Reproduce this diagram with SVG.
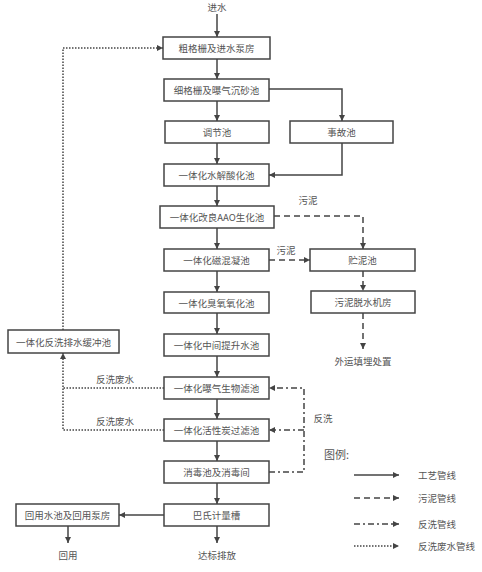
<svg xmlns="http://www.w3.org/2000/svg" width="482" height="572" viewBox="0 0 482 572">
<style>
.b{fill:#fff;stroke:#444;stroke-width:1.5}
.t{font-family:"Noto Sans CJK SC","Noto Sans",sans-serif;font-size:9.5px;fill:#555;text-anchor:middle;dominant-baseline:central}
.l{fill:none;stroke:#444;stroke-width:1.5}
.d{stroke-dasharray:6,4}
.dd{stroke-dasharray:6,3,2,3}
.o{stroke-dasharray:1.5,1.5}
</style>
<defs>
<marker id="a" viewBox="0 0 10 10" refX="10" refY="5" markerWidth="7" markerHeight="6" markerUnits="userSpaceOnUse" orient="auto"><path d="M0,0L10,5L0,10z" fill="#444"/></marker>
</defs>
<rect width="482" height="572" fill="#fff"/>
<g id="connectors">
<path class="l" d="M217,14V37" marker-end="url(#a)"/>
<path class="l" d="M217,59V79" marker-end="url(#a)"/>
<path class="l" d="M217,101V121" marker-end="url(#a)"/>
<path class="l" d="M269,89H342V121" marker-end="url(#a)"/>
<path class="l" d="M217,143V164" marker-end="url(#a)"/>
<path class="l" d="M342,143V175H269" marker-end="url(#a)"/>
<path class="l" d="M217,186V206" marker-end="url(#a)"/>
<path class="l" d="M217,228V249" marker-end="url(#a)"/>
<path class="l" d="M217,271V292" marker-end="url(#a)"/>
<path class="l" d="M217,313V334" marker-end="url(#a)"/>
<path class="l" d="M217,356V377" marker-end="url(#a)"/>
<path class="l" d="M217,399V419" marker-end="url(#a)"/>
<path class="l" d="M217,441V461" marker-end="url(#a)"/>
<path class="l" d="M217,483V504" marker-end="url(#a)"/>
<path class="l" d="M217,526V543" marker-end="url(#a)"/>
<path class="l" d="M164,515H119" marker-end="url(#a)"/>
<path class="l" d="M68,526V543" marker-end="url(#a)"/>
<path class="l d" d="M274,216H363V249" marker-end="url(#a)"/>
<path class="l d" d="M269,260H310" marker-end="url(#a)"/>
<path class="l d" d="M363,271V291" marker-end="url(#a)"/>
<path class="l d" d="M363,313V349" marker-end="url(#a)"/>
<path class="l dd" d="M269,472H304V388H269" marker-end="url(#a)"/>
<path class="l dd" d="M304,430H269" marker-end="url(#a)"/>
<path class="l o" d="M63,330V48H163" marker-end="url(#a)"/>
<path class="l o" d="M164,388H63"/>
<path class="l o" d="M164,430H63V353" marker-end="url(#a)"/>
<path class="l" d="M354,475H399" marker-end="url(#a)"/>
<path class="l d" d="M354,498H399" marker-end="url(#a)"/>
<path class="l dd" d="M354,524H399" marker-end="url(#a)"/>
<path class="l o" d="M354,546H399" marker-end="url(#a)"/>
</g>
<g id="n1"><rect class="b" x="163" y="37" width="107" height="22"/><text class="t" x="216.5" y="48">粗格栅及进水泵房</text></g>
<g id="n2"><rect class="b" x="164" y="79" width="105" height="22"/><text class="t" x="216.5" y="90">细格栅及曝气沉砂池</text></g>
<g id="n3"><rect class="b" x="165" y="121" width="104" height="22"/><text class="t" x="217" y="132">调节池</text></g>
<g id="n4"><rect class="b" x="290" y="121" width="103" height="22"/><text class="t" x="341.5" y="132">事故池</text></g>
<g id="n5"><rect class="b" x="164" y="164" width="105" height="22"/><text class="t" x="216.5" y="175">一体化水解酸化池</text></g>
<g id="n6"><rect class="b" x="160" y="206" width="114" height="22"/><text class="t" x="217" y="217">一体化改良AAO生化池</text></g>
<g id="n7"><rect class="b" x="164" y="249" width="105" height="22"/><text class="t" x="216.5" y="260">一体化磁混凝池</text></g>
<g id="n8"><rect class="b" x="310" y="249" width="105" height="22"/><text class="t" x="362.5" y="260">贮泥池</text></g>
<g id="n9"><rect class="b" x="311" y="291" width="104" height="22"/><text class="t" x="363" y="302">污泥脱水机房</text></g>
<g id="n10"><rect class="b" x="164" y="292" width="105" height="21"/><text class="t" x="216.5" y="302.5">一体化臭氧氧化池</text></g>
<g id="n11"><rect class="b" x="164" y="334" width="105" height="22"/><text class="t" x="216.5" y="345">一体化中间提升水池</text></g>
<g id="n12"><rect class="b" x="8" y="330" width="111" height="23"/><text class="t" x="63.5" y="341.5">一体化反洗排水缓冲池</text></g>
<g id="n13"><rect class="b" x="164" y="377" width="105" height="22"/><text class="t" x="216.5" y="388">一体化曝气生物滤池</text></g>
<g id="n14"><rect class="b" x="164" y="419" width="105" height="22"/><text class="t" x="216.5" y="430">一体化活性炭过滤池</text></g>
<g id="n15"><rect class="b" x="164" y="461" width="105" height="22"/><text class="t" x="216.5" y="472">消毒池及消毒间</text></g>
<g id="n16"><rect class="b" x="164" y="504" width="105" height="22"/><text class="t" x="216.5" y="515">巴氏计量槽</text></g>
<g id="n17"><rect class="b" x="16" y="504" width="103" height="22"/><text class="t" x="67.5" y="515">回用水池及回用泵房</text></g>
<g id="labels">
<text class="t" x="217" y="7">进水</text>
<text class="t" x="308" y="200">污泥</text>
<text class="t" x="286" y="250">污泥</text>
<text class="t" x="363" y="361">外运填埋处置</text>
<text class="t" x="115" y="379">反洗废水</text>
<text class="t" x="115" y="421">反洗废水</text>
<text class="t" x="323" y="418">反洗</text>
<text class="t" x="68" y="555">回用</text>
<text class="t" x="217" y="555">达标排放</text>
<text class="t" x="324" y="454" style="font-size:11px;text-anchor:start">图例:</text>
<text class="t" x="418" y="475" style="text-anchor:start">工艺管线</text>
<text class="t" x="418" y="498" style="text-anchor:start">污泥管线</text>
<text class="t" x="418" y="524" style="text-anchor:start">反洗管线</text>
<text class="t" x="418" y="546" style="text-anchor:start">反洗废水管线</text>
</g>
</svg>
